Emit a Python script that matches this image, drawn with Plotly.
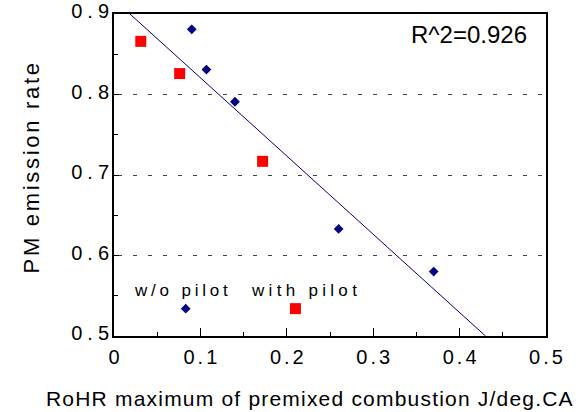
import plotly.graph_objects as go

# ---- data ----
wo_pilot_x = [0.090, 0.107, 0.140, 0.260, 0.370]
wo_pilot_y = [0.881, 0.831, 0.791, 0.633, 0.580]

with_pilot_x = [0.031, 0.076, 0.172]
with_pilot_y = [0.866, 0.826, 0.717]

# in-plot legend markers
legend_x = [0.083, 0.210]
legend_y = [0.534, 0.534]
legend_labels = ["w/o pilot", "with pilot"]
legend_label_x = [0.077, 0.2195]
legend_label_y = [0.556, 0.556]

# regression line end points
fit_x = [0.0185, 0.430]
fit_y = [0.900, 0.500]
r2_text = "R^2=0.926"

x_tick_vals = [0, 0.1, 0.2, 0.3, 0.4, 0.5]
x_tick_labels = ["0", "0.1", "0.2", "0.3", "0.4", "0.5"]
y_tick_vals = [0.5, 0.6, 0.7, 0.8, 0.9]
y_tick_labels = ["0.5", "0.6", "0.7", "0.8", "0.9"]

x_title = "RoHR maximum of premixed combustion J/deg.CA"
y_title = "PM emission rate"

FONT = "Liberation Sans, Arial, sans-serif"
NAVY = "#000080"
RED = "#ff0000"


def spaced(t, ls):
    """letter-spaced text without trailing space after the last character"""
    if len(t) < 2:
        return t
    return f'<span style="letter-spacing:{ls}px">{t[:-1]}</span>{t[-1]}'


fig = go.Figure()

fig.add_trace(go.Scatter(x=fit_x, y=fit_y, mode="lines",
                         line=dict(color=NAVY, width=1), showlegend=False,
                         hoverinfo="skip"))
fig.add_trace(go.Scatter(x=wo_pilot_x, y=wo_pilot_y, mode="markers",
                         marker=dict(symbol="diamond", size=7.5, color=NAVY),
                         name="w/o pilot", showlegend=False))
fig.add_trace(go.Scatter(x=with_pilot_x, y=with_pilot_y, mode="markers",
                         marker=dict(symbol="square", size=11, color=RED),
                         name="with pilot", showlegend=False))
# legend markers
fig.add_trace(go.Scatter(x=[legend_x[0]], y=[legend_y[0]], mode="markers",
                         marker=dict(symbol="diamond", size=7.5, color=NAVY),
                         showlegend=False, hoverinfo="skip"))
fig.add_trace(go.Scatter(x=[legend_x[1]], y=[legend_y[1]], mode="markers",
                         marker=dict(symbol="square", size=11, color=RED),
                         showlegend=False, hoverinfo="skip"))

for lx, ly, lab, ls in zip(legend_label_x, legend_label_y, legend_labels, [3.8, 4.3]):
    fig.add_annotation(x=lx, y=ly, xref="x", yref="y", text=spaced(lab, ls),
                       showarrow=False, xanchor="center", yanchor="middle",
                       font=dict(family=FONT, size=17, color="black"))

fig.add_annotation(x=0.411, y=0.8744, xref="x", yref="y", text=r2_text,
                   showarrow=False, xanchor="center", yanchor="middle",
                   font=dict(family=FONT, size=24, color="black"))

# axis titles as annotations (offset from plot centre like the reference)
fig.add_annotation(x=0.4514, y=-0.195, xref="paper", yref="paper",
                   text=spaced(x_title, 1.2), showarrow=False,
                   xanchor="center", yanchor="middle",
                   font=dict(family=FONT, size=21, color="black"))
fig.add_annotation(x=-0.19, y=0.52, xref="paper", yref="paper",
                   text=spaced(y_title, 2.7), showarrow=False, textangle=-90,
                   xanchor="center", yanchor="middle",
                   font=dict(family=FONT, size=22, color="black"))

fig.update_layout(
    template="none",
    width=583, height=412,
    margin=dict(l=114, r=37, t=14, b=76, pad=0, autoexpand=False),
    paper_bgcolor="white", plot_bgcolor="white",
    showlegend=False,
)

fig.update_xaxes(
    range=[0, 0.5], tickvals=x_tick_vals,
    ticktext=[spaced(t, 3) for t in x_tick_labels],
    ticks="inside", ticklen=8, tickwidth=1, tickcolor="black",
    minor=dict(ticks="inside", ticklen=4, dtick=0.05, tickcolor="black", showgrid=False),
    showline=True, linewidth=2, linecolor="black", mirror=True,
    showgrid=False, zeroline=False, automargin=False,
    tickfont=dict(family=FONT, size=20, color="black"),
    ticklabelstandoff=2,
)
fig.update_yaxes(
    range=[0.5, 0.9], tickvals=y_tick_vals,
    ticktext=[spaced(t, 5) for t in y_tick_labels],
    ticks="inside", ticklen=5, tickwidth=1, tickcolor="black",
    minor=dict(ticks="inside", ticklen=4, dtick=0.05, tickcolor="black", showgrid=False),
    showline=True, linewidth=2, linecolor="black", mirror=True,
    showgrid=True, gridcolor="#444444", gridwidth=1, griddash="0px,4px,4px,7px",
    zeroline=False, automargin=False,
    tickfont=dict(family=FONT, size=20, color="black"),
    ticklabelstandoff=-1, ticklabelshift=-3,
)

fig.write_html("out.html", config={"displayModeBar": False},
               post_script="document.body.style.margin='0';")
